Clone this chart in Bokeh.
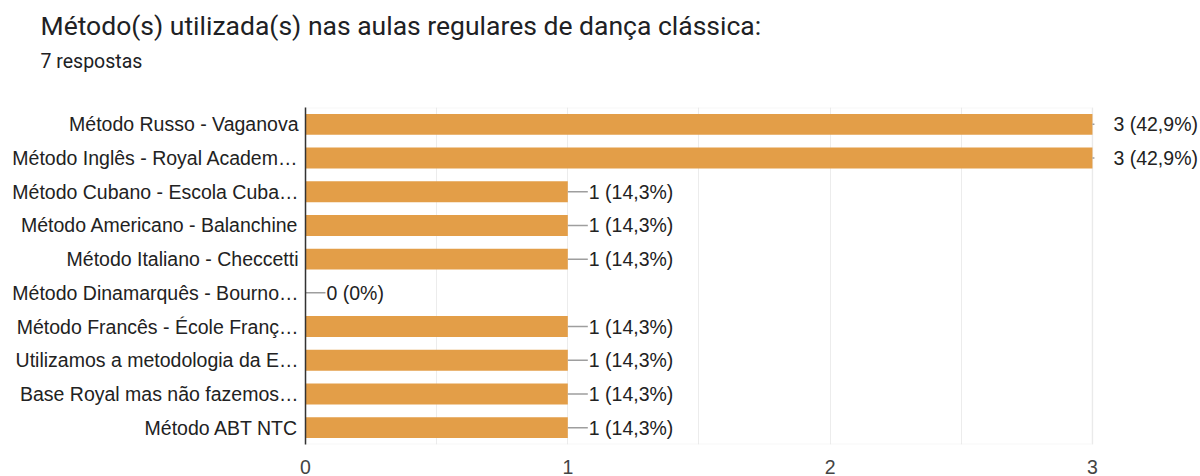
from bokeh.plotting import figure
from bokeh.models import (ColumnDataSource, FactorRange, Range1d, FixedTicker,
                          LabelSet, Title, BoxAnnotation)
from bokeh.core.properties import value
from bokeh.embed import file_html
from bokeh.resources import INLINE

title_text = "Método(s) utilizada(s) nas aulas regulares de dança clássica:"
subtitle_text = "7 respostas"

categories = [
    "Método Russo - Vaganova",
    "Método Inglês - Royal Academ…",
    "Método Cubano - Escola Cuba…",
    "Método Americano - Balanchine",
    "Método Italiano - Checcetti",
    "Método Dinamarquês - Bourno…",
    "Método Francês - École Franç…",
    "Utilizamos a metodologia da E…",
    "Base Royal mas não fazemos…",
    "Método ABT NTC",
]
counts = [3, 3, 1, 1, 1, 0, 1, 1, 1, 1]
value_labels = ["3 (42,9%)", "3 (42,9%)", "1 (14,3%)", "1 (14,3%)", "1 (14,3%)",
                "0 (0%)", "1 (14,3%)", "1 (14,3%)", "1 (14,3%)", "1 (14,3%)"]
x_ticks = [0, 1, 2, 3]
grid_ticks = [0.5, 1, 1.5, 2, 2.5, 3]

AXIS_MAX = x_ticks[-1]
VIEW_MAX = 3.412  # extra room to the right of the axis for value labels

# connector lines are cut off at the chart border for bars that reach the end
conn_len = [2 if c >= AXIS_MAX else 20 for c in counts]

src = ColumnDataSource(dict(cats=categories, counts=counts, labels=value_labels,
                            conn=conn_len))

p = figure(width=1200, height=476, output_backend="svg", toolbar_location=None,
           y_range=FactorRange(factors=categories[::-1]),
           x_range=Range1d(0, VIEW_MAX),
           min_border_left=305, min_border_right=0,
           min_border_top=0, min_border_bottom=30)

# spacer between subtitle and chart
p.add_layout(Title(text=" ", text_font_size="1px", standoff=32), "above")
p.add_layout(Title(text=subtitle_text, text_font="Roboto", text_font_size="19.5px",
                   text_font_style="normal", text_color="#202124",
                   align="left", offset=-265, standoff=0), "above")
p.add_layout(Title(text=title_text, text_font="Roboto", text_font_size="26.5px",
                   text_font_style="normal", text_color="#202124",
                   align="left", offset=-265, standoff=14), "above")

border = BoxAnnotation(left=0, right=AXIS_MAX, fill_color=None,
                       line_color="#e6e6e6", line_width=2, level="underlay")
p.add_layout(border)

p.hbar(y="cats", right="counts", height=0.62, source=src,
       fill_color="#e39e48", line_color=None)
p.ray(x="counts", y="cats", length="conn", length_units="screen", angle=0,
      source=src, line_color="#9e9e9e", line_width=1.5)

labels = LabelSet(x="counts", y="cats", text="labels", source=src, x_offset=21,
                  text_baseline="middle", text_align="left",
                  text_font=value("Liberation Sans"), text_font_size="19.5px",
                  text_color="#222222")
p.add_layout(labels)

p.outline_line_color = None

p.xgrid.ticker = FixedTicker(ticks=grid_ticks)
p.xgrid.grid_line_color = "#ececec"
p.ygrid.grid_line_color = None

p.xaxis.ticker = FixedTicker(ticks=x_ticks)
p.xaxis.axis_line_color = None
p.xaxis.major_tick_line_color = None
p.xaxis.minor_tick_line_color = None
p.xaxis.major_label_text_font = "Liberation Sans"
p.xaxis.major_label_text_font_size = "19.5px"
p.xaxis.major_label_text_color = "#444444"
p.xaxis.major_label_standoff = 9

p.yaxis.axis_line_color = "#333333"
p.yaxis.axis_line_width = 1.5
p.yaxis.major_tick_line_color = None
p.yaxis.minor_tick_line_color = None
p.yaxis.major_label_text_font = "Liberation Sans"
p.yaxis.major_label_text_font_size = "19.5px"
p.yaxis.major_label_text_color = "#222222"
p.yaxis.major_label_standoff = 1

p.background_fill_color = "white"
p.border_fill_color = "white"

open("out.html", "w").write(file_html(p, INLINE))
